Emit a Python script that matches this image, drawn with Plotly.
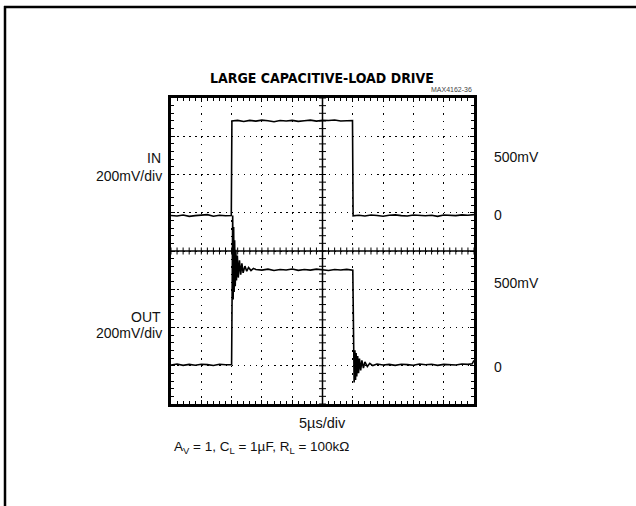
import plotly.graph_objects as go

# ---- waveform data: time in µs, amplitude in mV (relative to each channel's ground) ----
IN_T = [0, 1, 2, 3, 4, 5, 6, 7, 8, 9, 9.95,
        10.05, 11, 12, 13, 14, 15, 16, 17, 18, 19, 20, 21, 22, 23, 24, 25, 26, 27, 28, 29, 29.95,
        30.05, 31, 32, 33, 34, 35, 36, 37, 38, 39, 40, 41, 42, 43, 44, 45, 46, 47, 48, 49, 50]
IN_MV = [0, -3, 2, -5, -1, 2, 4, -4, 1, -2, 0,
         494, 497, 491, 497, 493, 498, 495, 490, 496, 494, 497, 492, 495, 498, 493, 497, 496, 499, 494, 497, 496,
         -2, 1, -3, 2, 0, -4, 1, 3, -1, -3, 2, 0, -2, 1, -5, 2, 0, -1, 3, 1, 4]

OUT_T = [0, 1, 2, 3, 4, 5, 6, 7, 8, 9, 10.0,
         10.1, 10.18, 10.26, 10.34, 10.42, 10.5, 10.6, 10.7, 10.8, 10.95, 11.1, 11.3, 11.5, 11.7,
         11.9, 12.2, 12.5, 12.8, 13.2, 13.6, 14, 15, 16, 17, 18, 19, 20, 21, 22, 23, 24, 25, 26,
         27, 28, 29, 30.0,
         30.22, 30.35, 30.45, 30.55, 30.65, 30.8, 30.95, 31.1, 31.3, 31.5, 31.75, 32.0, 32.4, 32.8,
         33.3, 34, 35, 36, 37, 38, 39, 40, 41, 42, 43, 44, 45, 46, 47, 48, 49, 49.7, 50]
OUT_MV = [-2, 3, -4, 1, -3, 2, 0, -5, 2, -1, 0,
          300, 780, 340, 720, 380, 650, 410, 600, 440, 570, 455, 545, 470, 530,
          480, 515, 488, 508, 492, 503, 497, 494, 499, 492, 497, 495, 500, 493, 497, 494, 499, 496, 492,
          497, 495, 498, 494,
          -94, 75, -80, 60, -62, 45, -45, 32, -30, 22, -18, 14, -10, 7,
          -5, 3, -2, 1, -4, 2, 0, -3, 3, -1, 2, -4, 1, 0, -2, 3, 1, 4, 22]

MV_PER_DIV = 200.0
IN_GROUND_DIV = 0.93     # trace ground positions on the graticule (divisions from centre)
OUT_GROUND_DIV = -2.97

# ---- page geometry (px) ----
W, H = 636, 506
ML, MR, MT, MB = 171, 162, 98, 102
PW, PH = W - ML - MR, H - MT - MB


def px(xp):
    return (xp - ML) / PW


def py(yp):
    return (H - MB - yp) / PH


def to_div(values, ground):
    return [v / MV_PER_DIV + ground for v in values]


FONT = "Liberation Sans, Arial, sans-serif"
TITLE_FONT = "DejaVu Sans Condensed, Liberation Sans Narrow, Liberation Sans, Arial, sans-serif"
INK = "#000000"

fig = go.Figure()

# graticule centre-line tick crosses
fig.add_trace(go.Scatter(
    x=[i for i in range(0, 51)], y=[0] * 51, mode="markers",
    marker=dict(symbol="line-ns", size=5, line=dict(width=1, color=INK)),
    hoverinfo="skip", showlegend=False))
fig.add_trace(go.Scatter(
    x=[25] * 41, y=[-4 + 0.2 * i for i in range(41)], mode="markers",
    marker=dict(symbol="line-ew", size=5, line=dict(width=1, color=INK)),
    hoverinfo="skip", showlegend=False))

fig.add_trace(go.Scatter(x=IN_T, y=to_div(IN_MV, IN_GROUND_DIV), mode="lines",
                         line=dict(color=INK, width=1.6), name="IN", showlegend=False))
fig.add_trace(go.Scatter(x=OUT_T, y=to_div(OUT_MV, OUT_GROUND_DIV), mode="lines",
                         line=dict(color=INK, width=1.6), name="OUT", showlegend=False))

axis_common = dict(showgrid=True, gridcolor=INK, gridwidth=1,
                   showline=True, linecolor=INK, linewidth=3, mirror="allticks",
                   ticks="inside", ticklen=4, tickwidth=1, tickcolor=INK,
                   showticklabels=False, zeroline=False, fixedrange=True)

fig.update_layout(
    width=W, height=H,
    margin=dict(l=ML, r=MR, t=MT, b=MB),
    paper_bgcolor="white", plot_bgcolor="white",
    xaxis=dict(range=[0, 50], tick0=0, dtick=5, griddash="1.5px,6.15px",
               minor=dict(dtick=1, ticks="inside", ticklen=3, tickcolor=INK, tickwidth=1, showgrid=False),
               **axis_common),
    yaxis=dict(range=[-4, 4], tick0=0, dtick=1, griddash="1.5px,4.56px",
               minor=dict(dtick=0.2, ticks="inside", ticklen=3, tickcolor=INK, tickwidth=1, showgrid=False),
               **axis_common),
    shapes=[
        dict(type="line", xref="x", yref="y", x0=25, x1=25, y0=-4, y1=4, line=dict(color=INK, width=1.5)),
        dict(type="line", xref="x", yref="y", x0=0, x1=50, y0=0, y1=0, line=dict(color=INK, width=1.5)),
        # page frame
        dict(type="line", xref="paper", yref="paper", x0=px(5), x1=px(5), y0=py(6), y1=py(H + 5),
             line=dict(color=INK, width=2.5)),
        dict(type="line", xref="paper", yref="paper", x0=px(4), x1=px(W + 5), y0=py(7), y1=py(7),
             line=dict(color=INK, width=2.5)),
    ],
)


def label(text, x, y, xanchor, size=14, color="#111", family=FONT, **kw):
    fig.add_annotation(text=text, x=px(x), y=py(y), xref="paper", yref="paper",
                       xanchor=xanchor, yanchor="middle", showarrow=False,
                       font=dict(family=family, size=size, color=color), **kw)


label("<b>LARGE CAPACITIVE-LOAD DRIVE</b>", 322, 78, "center", size=14, color="#000", family=TITLE_FONT)
label("MAX4162-36", 474, 89, "right", size=7, color="#444")
label("IN", 163, 158, "right")
label("200mV/div", 164, 176, "right")
label("OUT", 163, 317, "right")
label("200mV/div", 164, 333, "right")
label("500mV", 492, 157, "left")
label("0", 492, 215, "left")
label("500mV", 492, 283, "left")
label("0", 492, 367, "left")
label("5µs/div", 322, 423, "center", size=14.5)
label("A<sub>V</sub> = 1, C<sub>L</sub> = 1µF, R<sub>L</sub> = 100kΩ", 172, 447, "left", size=13.5)

fig.write_html("out.html")
